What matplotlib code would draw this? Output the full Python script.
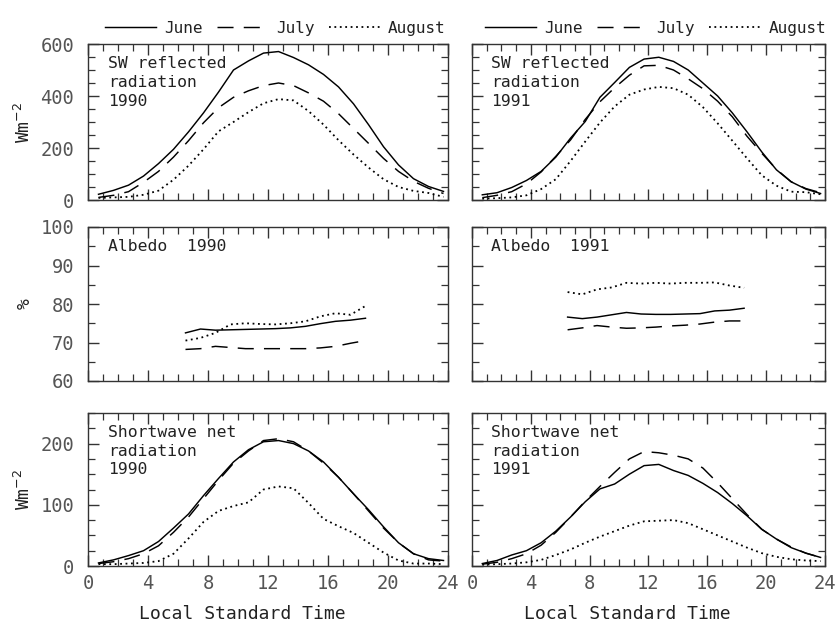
import numpy as np
import matplotlib.pyplot as plt
from matplotlib.ticker import MultipleLocator

plt.rcParams['font.family'] = ['DejaVu Sans Mono', 'DejaVu Sans']

# Hourly values, local standard time
hours = np.arange(24) + 0.7
albedo_hours = np.arange(13) + 6.5
months = ['June', 'July', 'August']

# SW reflected radiation (W m-2)
refl_1990_jun = [22, 37, 57, 92, 140, 195, 262, 335, 415, 500, 535, 565,
                 571, 548, 520, 483, 435, 370, 290, 205, 135, 82, 52, 33]
refl_1990_jul = [10, 18, 32, 68, 110, 165, 228, 297, 355, 395, 420, 440,
                 450, 440, 412, 380, 332, 275, 218, 160, 110, 72, 45, 25]
refl_1990_aug = [8, 10, 12, 20, 36, 78, 132, 195, 264, 300, 338, 372,
                 388, 383, 342, 290, 230, 175, 125, 80, 50, 35, 27, 12]
refl_1991_jun = [20, 28, 48, 75, 110, 165, 238, 302, 395, 452, 510, 542,
                 549, 533, 500, 450, 400, 335, 262, 185, 116, 70, 42, 25]
refl_1991_jul = [9, 18, 32, 62, 108, 168, 231, 310, 378, 432, 480, 516,
                 518, 500, 466, 428, 380, 320, 245, 180, 118, 70, 44, 28]
refl_1991_aug = [5, 7, 10, 18, 42, 80, 150, 225, 298, 360, 405, 425,
                 435, 430, 405, 357, 295, 228, 160, 95, 55, 32, 30, 22]

# Albedo (%)
alb_1990_jun = [72.5, 73.5, 73.2, 73.3, 73.4, 73.5, 73.6, 73.8, 74.2, 74.9, 75.5, 75.8, 76.3]
alb_1990_jul = [68.2, 68.4, 69.0, 68.7, 68.4, 68.4, 68.4, 68.4, 68.4, 68.6, 69.0, 69.8, 70.5]
alb_1990_aug = [70.5, 71.2, 72.5, 74.7, 75.0, 74.8, 74.7, 75.0, 75.5, 76.8, 77.6, 77.2, 79.5]
alb_1991_jun = [76.6, 76.2, 76.6, 77.2, 77.8, 77.4, 77.3, 77.3, 77.4, 77.5, 78.2, 78.4, 78.9]
alb_1991_jul = [73.3, 73.8, 74.4, 74.0, 73.7, 73.8, 74.0, 74.3, 74.5, 74.8, 75.3, 75.6, 75.6]
alb_1991_aug = [83.1, 82.5, 83.8, 84.3, 85.5, 85.3, 85.5, 85.3, 85.5, 85.5, 85.6, 84.8, 84.2]

# Shortwave net radiation (W m-2)
net_1990_jun = [5, 10, 17, 25, 40, 62, 85, 115, 143, 170, 190, 203,
                205, 200, 188, 170, 145, 118, 92, 64, 38, 20, 12, 9]
net_1990_jul = [4, 7, 12, 20, 33, 55, 80, 110, 140, 168, 188, 205,
                208, 203, 188, 168, 145, 118, 90, 62, 38, 20, 10, 8]
net_1990_aug = [3, 3, 4, 5, 8, 20, 45, 72, 90, 98, 104, 125,
                130, 127, 103, 77, 65, 54, 38, 22, 9, 4, 4, 3]
net_1991_jun = [4, 9, 18, 25, 38, 57, 80, 105, 126, 134, 150, 164,
                166, 156, 148, 135, 120, 102, 82, 60, 44, 30, 21, 14]
net_1991_jul = [3, 6, 12, 20, 34, 55, 80, 106, 130, 153, 175, 187,
                185, 181, 175, 160, 136, 110, 84, 60, 44, 31, 21, 14]
net_1991_aug = [2, 3, 4, 6, 10, 18, 27, 38, 48, 57, 66, 73,
                74, 75, 70, 60, 50, 40, 30, 21, 15, 11, 9, 8]

styles = [dict(linestyle='-', lw=1.05),
          dict(linestyle=(0, (11, 7)), lw=1.05),
          dict(linestyle=(0, (1, 2.0)), lw=1.3)]

W, H = 835, 629
fig = plt.figure(figsize=(W / 100, H / 100), dpi=100)

cols = [(88, 360), (472, 353)]
rows = [(44, 156), (227, 154), (413, 153)]

tick_color = '#555555'
text_color = '#222222'


def make_axes(col, row):
    x0, w = cols[col]
    y0, h = rows[row]
    return fig.add_axes([x0 / W, (H - y0 - h) / H, w / W, h / H])


def style_axes(ax, ylim, ymajor, yminor, show_x, show_y):
    ax.set_xlim(0, 24)
    ax.set_ylim(*ylim)
    ax.xaxis.set_major_locator(MultipleLocator(4))
    ax.xaxis.set_minor_locator(MultipleLocator(1))
    ax.yaxis.set_major_locator(MultipleLocator(ymajor))
    ax.yaxis.set_minor_locator(MultipleLocator(yminor))
    ax.tick_params(which='both', direction='in', top=True, right=True,
                   colors='#333333', labelcolor=tick_color, labelsize=13.5)
    ax.tick_params(which='major', length=8, width=1.0)
    ax.tick_params(which='minor', length=5, width=0.9)
    ax.tick_params(axis='x', pad=6)
    ax.tick_params(axis='y', pad=10)
    if not show_x:
        ax.tick_params(axis='x', labelbottom=False)
    if not show_y:
        ax.tick_params(axis='y', labelleft=False)
    for s in ax.spines.values():
        s.set_linewidth(1.0)
        s.set_color('#333333')


def draw(ax, x, series):
    lines = []
    for vals, st in zip(series, styles):
        ln, = ax.plot(x, vals, color='black', **st)
        lines.append(ln)
    return lines


panels = [
    (0, 0, hours, [refl_1990_jun, refl_1990_jul, refl_1990_aug], 'SW reflected\nradiation\n1990'),
    (1, 0, hours, [refl_1991_jun, refl_1991_jul, refl_1991_aug], 'SW reflected\nradiation\n1991'),
    (0, 1, albedo_hours, [alb_1990_jun, alb_1990_jul, alb_1990_aug], 'Albedo  1990'),
    (1, 1, albedo_hours, [alb_1991_jun, alb_1991_jul, alb_1991_aug], 'Albedo  1991'),
    (0, 2, hours, [net_1990_jun, net_1990_jul, net_1990_aug], 'Shortwave net\nradiation\n1990'),
    (1, 2, hours, [net_1991_jun, net_1991_jul, net_1991_aug], 'Shortwave net\nradiation\n1991'),
]

limits = {0: ((0, 600), 200, 50), 1: ((60, 100), 10, 5), 2: ((0, 250), 100, 25)}

for col, row, x, series, label in panels:
    ax = make_axes(col, row)
    ylim, ymaj, ymin = limits[row]
    style_axes(ax, ylim, ymaj, ymin, show_x=(row == 2), show_y=(col == 0))
    lines = draw(ax, x, series)
    ax.text(0.055, 0.92, label, transform=ax.transAxes, ha='left', va='top',
            fontsize=11.8, color=text_color, linespacing=1.3)

    if row == 0:
        ax.legend(lines, months, loc='lower center', bbox_to_anchor=(0.52, 1.0),
                  ncol=3, frameon=False, fontsize=11.5, handlelength=3.2,
                  handletextpad=0.5, columnspacing=0.9, borderaxespad=0.1,
                  labelcolor=text_color)
    if col == 0:
        ylab = {0: 'Wm$^{-2}$', 1: '%', 2: 'Wm$^{-2}$'}[row]
        ax.set_ylabel(ylab, fontsize=13, color=text_color)
        ax.yaxis.set_label_coords(-0.15, 0.5)
    if row == 2:
        ax.set_xlabel('Local Standard Time', fontsize=13, color=text_color)
        ax.xaxis.set_label_coords(0.43 if col == 0 else 0.44, -0.255)

fig.savefig('out.png', dpi=100, facecolor='white')
